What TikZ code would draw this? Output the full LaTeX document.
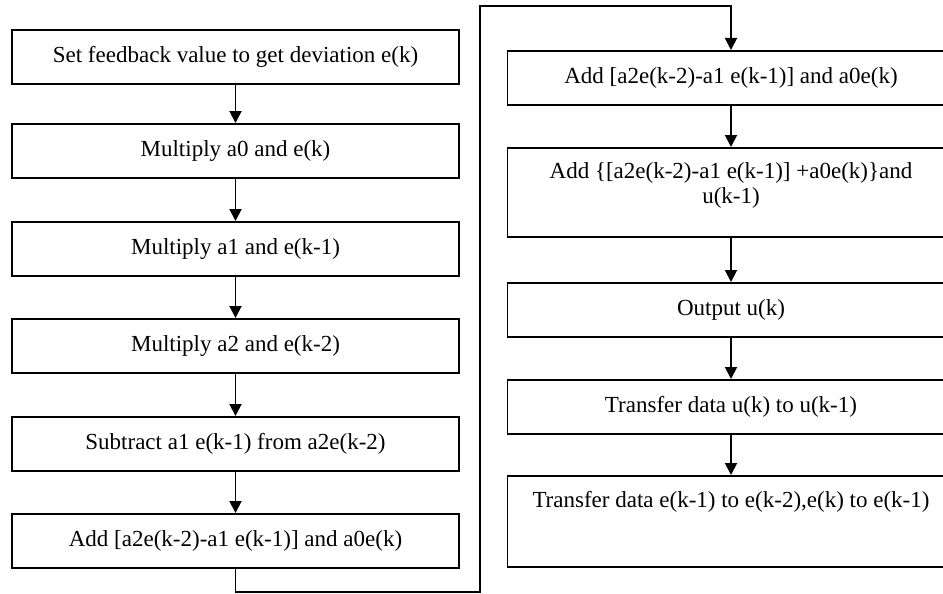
\documentclass[tikz,border=0pt]{standalone}
\usepackage{fontspec}
\setmainfont{Liberation Serif}
\usetikzlibrary{arrows.meta}
\begin{document}
\begin{tikzpicture}[x=1pt,y=-1pt,
  stepbox/.style={draw, line width=1.9pt, minimum width=447pt, minimum height=54pt,
    inner sep=0pt, font=\fontsize{23}{25}\selectfont, anchor=north},
  flow/.style={line width=1.9pt, -{Triangle[length=12pt,width=12pt]}}]
\useasboundingbox (0,0) rectangle (943,594);
\clip (0,0) rectangle (943,594);
% left column
\node[stepbox] (b1) at (235.5,29) {Set feedback value to get deviation e(k)};
\node[stepbox] (b2) at (235.5,123) {Multiply a0 and e(k)};
\node[stepbox] (b3) at (235.5,221) {Multiply a1 and e(k-1)};
\node[stepbox] (b4) at (235.5,318) {Multiply a2 and e(k-2)};
\node[stepbox] (b5) at (235.5,416) {Subtract a1 e(k-1) from a2e(k-2)};
\node[stepbox] (b6) at (235.5,513) {Add [a2e(k-2)-a1 e(k-1)] and a0e(k)};
% right column
\node[stepbox] (b7) at (731,50) {Add [a2e(k-2)-a1 e(k-1)] and a0e(k)};
\node[stepbox, align=center, text height=56pt, text depth=33pt] (b8) at (731,147)
  {Add \{[a2e(k-2)-a1 e(k-1)] +a0e(k)\}and\\u(k-1)};
\node[stepbox] (b9) at (731,282) {Output u(k)};
\node[stepbox] (b10) at (731,379) {Transfer data u(k) to u(k-1)};
\node[stepbox, text height=32pt, text depth=59pt] (b11) at (731,475)
  {Transfer data e(k-1) to e(k-2),e(k) to e(k-1)};
% arrows
\draw[flow] (b1) -- (b2);
\draw[flow] (b2) -- (b3);
\draw[flow] (b3) -- (b4);
\draw[flow] (b4) -- (b5);
\draw[flow] (b5) -- (b6);
\coordinate (c1) at (236,592);
\coordinate (c2) at (480,6);
\draw[flow] (b6.south) -- (b6.south |- c1) -| (c2) -| (b7.north);
\draw[flow] (b7) -- (b8);
\draw[flow] (b8) -- (b9);
\draw[flow] (b9) -- (b10);
\draw[flow] (b10) -- (b11);
\end{tikzpicture}
\end{document}
